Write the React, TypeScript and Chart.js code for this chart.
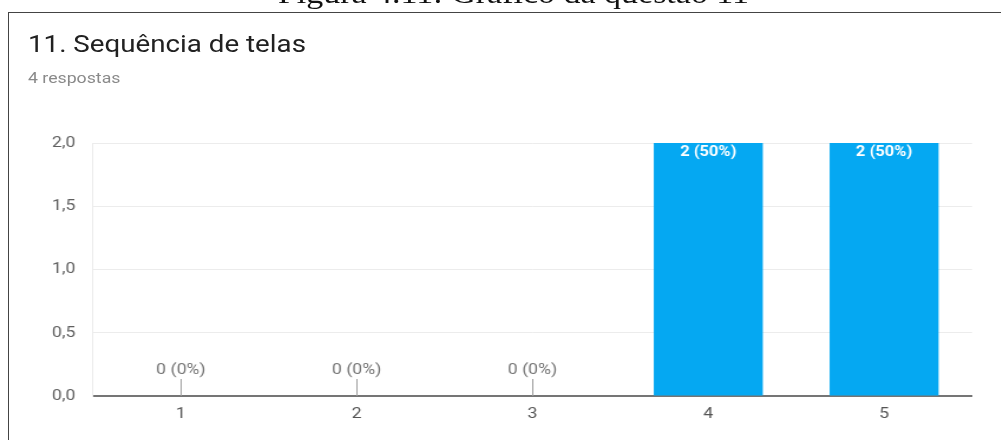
import React, { useEffect, useRef } from "react";
import { Chart, registerables } from "chart.js";

Chart.register(...registerables);

// ---- data ----
const categories = ["1", "2", "3", "4", "5"];
const counts = [0, 0, 0, 2, 2];
const percents = [0, 0, 0, 50, 50];
const yMin = 0;
const yMax = 2;
const yStep = 0.5;
const titleText = "11. Sequência de telas";
const subtitleText = "4 respostas";
const captionText = "Figura 4.11: Gráfico da questão 11";

// reference is horizontally stretched
const SX = 1.18;
const W = 1001 / SX;

const barLabelPlugin = {
  id: "barLabels",
  afterDatasetsDraw(chart: any) {
    const ctx = chart.ctx;
    const meta = chart.getDatasetMeta(0);
    ctx.save();
    ctx.textAlign = "center";
    ctx.textBaseline = "middle";
    meta.data.forEach((el: any, i: number) => {
      const { x, y, base } = el.getProps(["x", "y", "base"], true);
      const label = `${counts[i]} (${percents[i]}%)`;
      if (counts[i] > 0) {
        ctx.font = "bold 14px Roboto";
        ctx.fillStyle = "#ffffff";
        ctx.fillText(label, x, y + 9);
      } else {
        ctx.strokeStyle = "#9e9e9e";
        ctx.lineWidth = 1;
        ctx.beginPath();
        ctx.moveTo(Math.round(x) + 0.5, base - 17);
        ctx.lineTo(Math.round(x) + 0.5, base);
        ctx.stroke();
        ctx.font = "15px Roboto";
        ctx.fillStyle = "#757575";
        ctx.fillText(label, x, base - 26);
      }
    });
    ctx.restore();
  },
};

function BarChart() {
  const ref = useRef<HTMLCanvasElement | null>(null);
  useEffect(() => {
    if (!ref.current) return;
    const chart = new Chart(ref.current, {
      type: "bar",
      data: {
        labels: categories,
        datasets: [
          {
            data: counts,
            backgroundColor: "#05a8f2",
            borderWidth: 0,
            barPercentage: 0.62,
            categoryPercentage: 1,
          },
        ],
      },
      options: {
        animation: false,
        responsive: true,
        maintainAspectRatio: false,
        layout: {
          padding: { left: 93 / SX - 60, right: W - 972 / SX, top: 143, bottom: 14 },
        },
        plugins: {
          legend: { display: false },
          tooltip: { enabled: false },
          title: { display: false },
        },
        scales: {
          x: {
            grid: {
              drawTicks: false,
              color: (c: any) => (c.index === categories.length ? "#ececec" : "rgba(0,0,0,0)"),
              lineWidth: 1,
            },
            border: { display: true, color: "#757575", width: 2 },
            ticks: {
              color: "#555555",
              font: { family: "Roboto", size: 15 },
              padding: 9,
            },
            afterFit: (s: any) => {
              s.height = 30;
            },
          },
          y: {
            min: yMin,
            max: yMax,
            grid: { color: "#ececec", lineWidth: 1, drawTicks: false },
            border: { display: true, color: "#ececec", width: 1 },
            ticks: {
              stepSize: yStep,
              color: "#5f5f5f",
              font: { family: "Roboto", size: 15 },
              padding: 15,
              callback: (v: any) => Number(v).toFixed(1).replace(".", ","),
            },
            afterFit: (s: any) => {
              s.width = 60;
            },
          },
        },
      },
      plugins: [barLabelPlugin],
    });
    return () => chart.destroy();
  }, []);
  return (
    <div style={{ position: "absolute", left: 0, top: 0, width: W, height: 440 }}>
      <canvas ref={ref} />
    </div>
  );
}

export default function App() {
  return (
    <div
      style={{
        position: "fixed",
        left: 0,
        top: 0,
        width: 1001,
        height: 440,
        overflow: "hidden",
        background: "#ffffff",
      }}
    >
      <div
        style={{
          position: "absolute",
          left: 0,
          top: 0,
          width: W,
          height: 440,
          transform: `scaleX(${SX})`,
          transformOrigin: "0 0",
        }}
      >
        <div
          style={{
            position: "absolute",
            left: 0,
            width: (513.5 / SX) * 2,
            top: -23,
            textAlign: "center",
            fontFamily: "'Liberation Serif', 'Times New Roman', serif",
            fontSize: 28.8,
            lineHeight: "normal",
            color: "#111",
            whiteSpace: "nowrap",
          }}
        >
          {captionText}
        </div>
        <div
          style={{
            position: "absolute",
            left: 28 / SX,
            top: 29.9,
            fontFamily: "Roboto, sans-serif",
            fontSize: 23.5,
            lineHeight: "normal",
            color: "#212121",
            whiteSpace: "nowrap",
          }}
        >
          {titleText}
        </div>
        <div
          style={{
            position: "absolute",
            left: 28 / SX,
            top: 69,
            fontFamily: "Roboto, sans-serif",
            fontSize: 15,
            lineHeight: "normal",
            color: "#8a8a8a",
            whiteSpace: "nowrap",
          }}
        >
          {subtitleText}
        </div>
        <BarChart />
      </div>
      <div
        style={{
          position: "absolute",
          left: 8,
          top: 12,
          width: 1100,
          height: 500,
          borderLeft: "1px solid #444",
          borderTop: "1px solid #444",
          background: "transparent",
        }}
      />
    </div>
  );
}
